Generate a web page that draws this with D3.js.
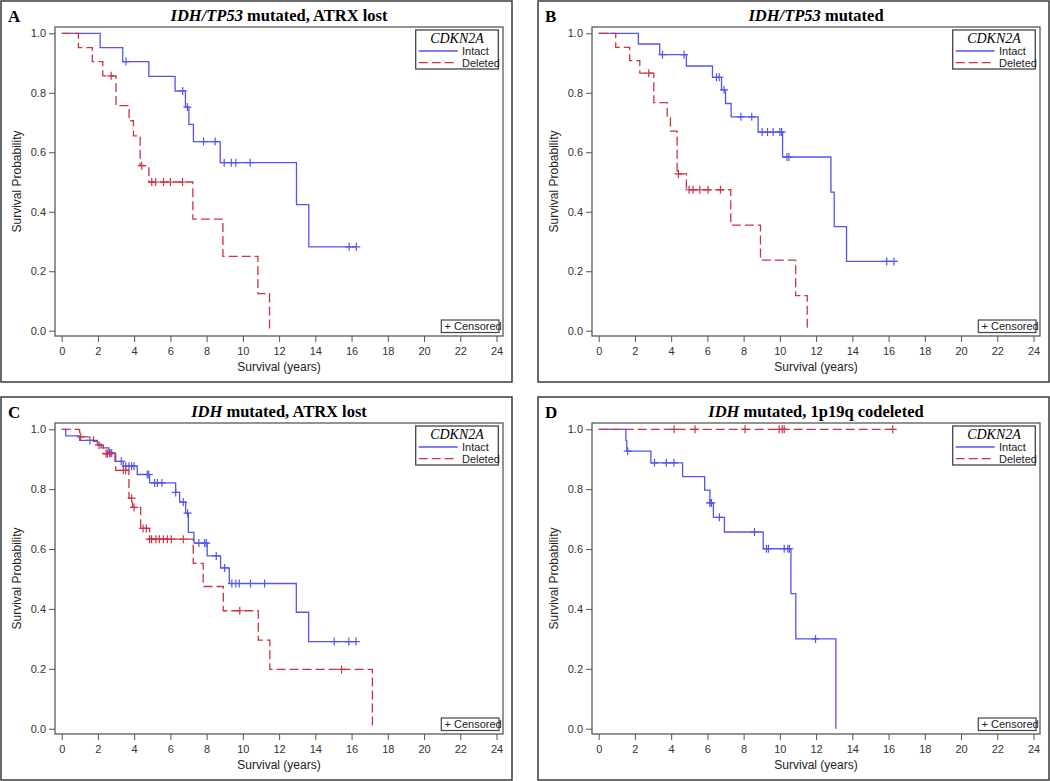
<!DOCTYPE html>
<html><head><meta charset="utf-8">
<script src="https://cdn.jsdelivr.net/npm/d3@7"></script>
<style>body{margin:0;background:#fff}</style>
</head><body><svg id="c" width="1050" height="781"></svg>
<script>
// ---------- data ----------
const xTicks = [0,2,4,6,8,10,12,14,16,18,20,22,24];
const yTicks = [0,0.2,0.4,0.6,0.8,1.0];
const panelLetters = ["A","B","C","D"];
const titleItalic = ["IDH/TP53","IDH/TP53","IDH","IDH"];
const titleRest = [" mutated, ATRX lost"," mutated"," mutated, ATRX lost"," mutated, 1p19q codeleted"];
const groups = ["Intact","Deleted"];

// steps: [time, survival after the event]; censors: times
const aIntactSteps = [[2.12,0.952],[3.37,0.905],[4.81,0.855],[6.26,0.806],[6.83,0.752],[7.02,0.694],[7.27,0.636],[8.75,0.565],[12.96,0.424],[13.64,0.282]];
const aIntactCensor = [3.55,6.68,6.94,7.83,8.47,8.97,9.36,9.61,10.4,15.87,16.26];
const aDeletedSteps = [[0.92,0.952],[1.69,0.905],[2.27,0.857],[3.0,0.757],[3.72,0.706],[3.96,0.655],[4.33,0.555],[4.81,0.500],[7.24,0.375],[8.9,0.250],[10.83,0.125],[11.47,0.0]];
const aDeletedCensor = [2.73,4.42,4.97,5.19,5.62,6.0,6.67];

const bIntactSteps = [[2.19,0.964],[3.37,0.928],[4.84,0.890],[6.28,0.852],[6.78,0.810],[7.0,0.764],[7.31,0.719],[8.8,0.668],[10.15,0.584],[12.82,0.466],[13.0,0.350],[13.68,0.233]];
const bIntactCensor = [3.52,4.71,6.5,6.65,6.92,7.85,8.45,9.02,9.32,9.63,10.0,10.1,10.39,10.5,15.9,16.3];
const bDeletedSteps = [[0.94,0.953],[1.71,0.908],[2.27,0.866],[3.04,0.767],[3.78,0.719],[3.96,0.671],[4.33,0.527],[4.84,0.474],[7.29,0.355],[8.93,0.237],[10.87,0.118],[11.51,0.0]];
const bDeletedCensor = [2.76,4.4,4.99,5.21,5.58,6.04,6.72];

const cIntactSteps = [[0.22,0.978],[0.99,0.963],[1.97,0.950],[2.18,0.938],[2.61,0.921],[2.94,0.893],[3.40,0.877],[4.17,0.849],[4.85,0.821],[6.29,0.789],[6.51,0.757],[6.84,0.720],[6.99,0.656],[7.30,0.620],[8.03,0.577],[8.77,0.537],[9.25,0.485],[12.95,0.389],[13.63,0.291]];
const cIntactCensor = [1.56,2.65,2.76,3.29,3.53,3.71,3.86,3.99,4.72,4.81,5.13,5.28,5.53,6.29,6.71,6.95,7.57,7.89,7.98,8.53,8.99,9.39,9.61,9.8,10.42,11.2,15.04,15.85,16.24];
const cDeletedSteps = [[0.99,0.975],[1.75,0.960],[1.97,0.947],[2.30,0.919],[2.98,0.863],[3.71,0.770],[3.91,0.739],[4.36,0.669],[4.85,0.633],[7.26,0.552],[7.81,0.475],[8.92,0.394],[10.85,0.296],[11.49,0.198],[17.15,0.0]];
const cDeletedCensor = [1.05,2.06,2.45,2.52,2.67,3.4,3.53,3.86,3.99,4.49,4.67,4.85,4.96,5.2,5.39,5.61,5.83,6.05,6.71,9.83,15.45];

const dIntactSteps = [[1.50,0.963],[1.55,0.927],[2.88,0.888],[4.63,0.842],[5.85,0.797],[6.14,0.754],[6.33,0.706],[6.94,0.657],[9.08,0.601],[10.61,0.451],[10.88,0.300],[13.09,0.0]];
const dIntactCensor = [1.6,3.08,3.73,4.15,6.14,6.22,6.66,8.6,9.26,9.37,10.24,10.44,10.53,11.97];
const dDeletedSteps = [];
const dDeletedCensor = [4.16,5.32,8.08,9.96,10.13,10.24,16.23];

const panelSteps = [[aIntactSteps,aDeletedSteps],[bIntactSteps,bDeletedSteps],[cIntactSteps,cDeletedSteps],[dIntactSteps,dDeletedSteps]];
const panelCensor = [[aIntactCensor,aDeletedCensor],[bIntactCensor,bDeletedCensor],[cIntactCensor,cDeletedCensor],[dIntactCensor,dDeletedCensor]];

// ---------- layout / style ----------
const boxes = [{x:1,y:1},{x:538,y:1},{x:1,y:397},{x:538,y:397}];
const boxW = 511, boxHs = [381,381,383,383];
const colors = ["#5555ee","#cc3344"];
const dashes = [null,"9,4"];
const sans = "'Liberation Sans', Arial, sans-serif";
const serif = "'Liberation Serif', 'Times New Roman', serif";

const svg = d3.select("#c");

panelLetters.forEach((letter, i) => {
  const bx = boxes[i].x, by = boxes[i].y, bh = boxHs[i];
  const g = svg.append("g");
  g.append("rect").attr("x",bx).attr("y",by).attr("width",boxW).attr("height",bh)
    .attr("fill","none").attr("stroke","#3a3a3a").attr("stroke-width",1.5);

  const fL = bx+54, fR = bx+boxW-9, fT = by+26, fB = by+bh-46;
  const x = d3.scaleLinear().domain([0,24]).range([fL+6.7, fR-6.5]);
  const y = d3.scaleLinear().domain([0,1]).range([fB-5.3, fT+6.3]);

  // frame
  g.append("rect").attr("x",fL).attr("y",fT).attr("width",fR-fL).attr("height",fB-fT)
    .attr("fill","none").attr("stroke","#5a5a5a").attr("stroke-width",1.3);

  // axes
  const xa = g.append("g").attr("transform",`translate(0,${fB})`)
    .call(d3.axisBottom(x).tickValues(xTicks).tickSize(6).tickFormat(d3.format("d")));
  const ya = g.append("g").attr("transform",`translate(${fL},0)`)
    .call(d3.axisLeft(y).tickValues(yTicks).tickSize(6).tickFormat(d3.format(".1f")));
  [xa,ya].forEach(a => {
    a.select(".domain").remove();
    a.selectAll(".tick line").attr("stroke","#555");
    a.selectAll(".tick text").attr("fill","#333").style("font-family",sans).style("font-size","11px");
  });
  xa.selectAll(".tick text").attr("y",11);

  // titles
  g.append("text").attr("x",bx+7).attr("y",by+21).text(letter)
    .style("font-family",serif).style("font-weight","bold").style("font-size","17px");
  const t = g.append("text").attr("x",(fL+fR)/2).attr("y",by+20).attr("text-anchor","middle")
    .style("font-family",serif).style("font-weight","bold").style("font-size","16.5px");
  t.append("tspan").style("font-style","italic").text(titleItalic[i]);
  t.append("tspan").text(titleRest[i]);

  g.append("text").attr("x",(fL+fR)/2).attr("y",by+bh-11).attr("text-anchor","middle")
    .style("font-family",sans).style("font-size","12px").attr("fill","#222").text("Survival (years)");
  g.append("text").attr("transform",`translate(${bx+20},${(fT+fB)/2}) rotate(-90)`).attr("text-anchor","middle")
    .style("font-family",sans).style("font-size","12px").attr("fill","#222").text("Survival Probability");

  // curves
  groups.forEach((grp, k) => {
    const steps = panelSteps[i][k], cens = panelCensor[i][k];
    const survAt = tt => { let s = 1; steps.forEach(d => { if (d[0] <= tt) s = d[1]; }); return s; };
    const pts = [[0,1]].concat(steps);
    const lastT = Math.max(pts[pts.length-1][0], d3.max(cens) || 0);
    if (lastT > pts[pts.length-1][0]) pts.push([lastT, pts[pts.length-1][1]]);
    const line = d3.line().x(d => x(d[0])).y(d => y(d[1])).curve(d3.curveStepAfter);
    g.append("path").attr("d", line(pts)).attr("fill","none").attr("stroke",colors[k])
      .attr("stroke-width",1.3).attr("stroke-dasharray",dashes[k]);
    g.selectAll(null).data(cens).enter().append("path")
      .attr("d", d => { const cx = x(d), cy = y(survAt(d)); return `M${cx-4},${cy}H${cx+4}M${cx},${cy-4}V${cy+4}`; })
      .attr("stroke",colors[k]).attr("stroke-width",1.2).attr("fill","none");
  });

  // legend
  const lL = fR-87.3, lT = fT+3;
  g.append("rect").attr("x",lL).attr("y",lT).attr("width",82.6).attr("height",39)
    .attr("fill","#fff").attr("stroke","#444").attr("stroke-width",1.3);
  g.append("text").attr("x",lL+41.3).attr("y",lT+13).attr("text-anchor","middle")
    .style("font-family",serif).style("font-style","italic").style("font-size","14px").text("CDKN2A");
  groups.forEach((grp,k) => {
    const ly = lT+21+k*11.7;
    g.append("line").attr("x1",lL+3).attr("x2",lL+42).attr("y1",ly).attr("y2",ly)
      .attr("stroke",colors[k]).attr("stroke-width",1.3).attr("stroke-dasharray",dashes[k]);
    g.append("text").attr("x",lL+46.3).attr("y",ly).attr("dy","0.35em")
      .style("font-family",sans).style("font-size","11px").attr("fill","#222").text(grp);
  });
  g.append("rect").attr("x",fR-61.7).attr("y",fB-16).attr("width",57.7).attr("height",12.5)
    .attr("fill","#fff").attr("stroke","#444").attr("stroke-width",1.2);
  g.append("text").attr("x",fR-58.5).attr("y",fB-9.7).attr("dy","0.35em")
    .style("font-family",sans).style("font-size","11px").attr("fill","#222").text("+ Censored");
});
</script></body></html>
